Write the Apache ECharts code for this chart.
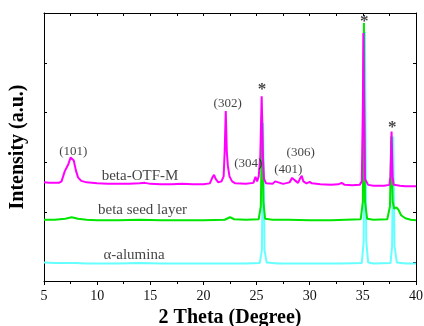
<!DOCTYPE html>
<html><head><meta charset="utf-8">
<script src="https://cdn.jsdelivr.net/npm/echarts@6/dist/echarts.min.js"></script>
<style>html,body{margin:0;padding:0;background:#fff}#c{width:424px;height:326px}</style>
</head><body><div id="c"></div>
<script>
// X ticks (degrees)
var xTicks = [5, 10, 15, 20, 25, 30, 35, 40];
// Series: [2θ, intensity (offset units)]
var alumina = [[5,0.37],[6,0.36],[7,0.36],[8,0.36],[9,0.35],[10,0.35],[12,0.35],[14,0.36],[16,0.35],[18,0.35],[20,0.35],[22,0.35],[24,0.35],[25.3,0.36],[25.5,0.62],[25.62,3.17],[25.75,0.62],[25.95,0.37],[27,0.35],[29,0.35],[31,0.35],[33,0.35],[34.9,0.36],[35.08,0.8],[35.2,5.0],[35.32,0.8],[35.5,0.37],[36,0.35],[37.6,0.36],[37.75,0.7],[37.86,2.9],[37.98,0.7],[38.2,0.37],[39,0.35],[40,0.35]];
var seedLayer = [[5,1.23],[6,1.23],[7,1.25],[7.6,1.28],[8.2,1.25],[9,1.23],[10,1.22],[12,1.22],[14,1.23],[16,1.22],[18,1.22],[20,1.22],[22,1.23],[22.5,1.28],[22.9,1.24],[24,1.23],[25.2,1.24],[25.4,1.5],[25.52,3.33],[25.64,1.6],[25.8,1.25],[26.5,1.23],[28,1.23],[30,1.22],[32,1.22],[34.8,1.24],[35.0,1.6],[35.1,5.18],[35.2,1.6],[35.4,1.25],[36,1.23],[37.3,1.24],[37.55,1.5],[37.67,2.9],[37.8,1.6],[37.95,1.45],[38.15,1.48],[38.35,1.43],[38.6,1.32],[39,1.26],[39.5,1.23],[40,1.22]];
var otfM = [[5.0,1.98],[5.5,1.97],[6.0,1.97],[6.4,1.97],[6.65,2.0],[6.8,2.1],[6.95,2.2],[7.1,2.22],[7.3,2.35],[7.5,2.48],[7.65,2.5],[7.8,2.42],[8.0,2.22],[8.2,2.08],[8.5,2.01],[9.0,1.98],[10,1.96],[11,1.95],[12,1.95],[13,1.95],[14,1.96],[14.5,1.97],[15,1.95],[16,1.94],[17,1.94],[18,1.95],[19,1.94],[20,1.94],[20.6,1.96],[20.85,2.08],[21.0,2.13],[21.15,2.05],[21.4,1.98],[21.7,2.0],[21.9,2.1],[22.0,2.6],[22.1,3.41],[22.2,2.6],[22.3,2.31],[22.45,2.1],[22.7,2.0],[23,1.96],[24,1.95],[24.7,1.97],[24.9,2.09],[25.05,2.0],[25.2,2.1],[25.35,2.5],[25.48,3.71],[25.6,2.5],[25.7,2.05],[25.9,1.96],[26.5,1.95],[26.75,2.0],[26.9,1.96],[27.5,1.95],[28.1,1.98],[28.35,2.07],[28.55,2.03],[28.9,1.97],[29.1,2.06],[29.25,2.11],[29.4,2.0],[29.7,1.96],[30.0,1.99],[30.2,1.96],[31,1.94],[32,1.93],[32.7,1.94],[33.0,1.97],[33.3,1.93],[34,1.92],[34.7,1.93],[34.9,2.0],[35.0,3.5],[35.05,4.98],[35.12,3.5],[35.2,2.05],[35.5,1.93],[36,1.91],[37,1.91],[37.5,1.93],[37.6,2.1],[37.7,3.0],[37.8,2.1],[37.9,1.93],[38.5,1.91],[39,1.90],[40,1.90]];
// Annotations: [x, y, text]
var hklLabels = [[7.75,2.6,'(101)'],[22.28,3.57,'(302)'],[24.22,2.36,'(304)'],[27.98,2.24,'(401)'],[29.15,2.58,'(306)']];
var stars = [[25.5,3.84,'*'],[35.13,5.2,'*'],[37.77,3.07,'*']];
var curveLabels = [[14.03,2.11,'beta-OTF-M'],[14.27,1.42,'beta seed layer'],[13.47,0.52,'α-alumina']];

var serif = 'Liberation Serif';
var chart = echarts.init(document.getElementById('c'), null, {renderer:'canvas'});
function lineS(name, data, color){
  return {type:'line', name:name, data:data, xAxisIndex:0, yAxisIndex:0, showSymbol:false, symbol:'none',
    lineStyle:{color:color, width:2}, animation:false, z:2};
}
function textS(data, size, weight){
  return {type:'scatter', data:data, symbolSize:0, xAxisIndex:0, yAxisIndex:0, silent:true, animation:false, z:5,
    label:{show:true, position:'inside', formatter:function(p){return p.data[2];}, color:'#111',
      fontFamily:serif, fontSize:size, fontWeight:weight}};
}
var ax = {color:'#000', width:1};
chart.setOption({
  backgroundColor:'#fff',
  animation:false,
  grid:{left:44, right:8, top:13, bottom:45, containLabel:false, outerBoundsMode:'none'},
  xAxis:[
    {type:'value', min:5, max:40, interval:5, position:'bottom',
     name:'2 Theta (Degree)', nameLocation:'middle', nameGap:24,
     nameTextStyle:{fontFamily:serif, fontSize:20, fontWeight:'bold', color:'#000'},
     axisLine:{show:true, lineStyle:ax}, splitLine:{show:false},
     axisTick:{show:true, inside:false, length:4, lineStyle:ax},
     minorTick:{show:true, splitNumber:2, length:3, lineStyle:ax},
     axisLabel:{fontFamily:serif, fontSize:14, color:'#111', margin:8}},
    {type:'value', min:5, max:40, interval:2.5, position:'top',
     axisLine:{show:true, lineStyle:ax}, splitLine:{show:false},
     axisTick:{show:true, inside:true, length:3, lineStyle:ax}, axisLabel:{show:false}}
  ],
  yAxis:[
    {type:'value', min:0, max:5.38, position:'left',
     name:'Intensity (a.u.)', nameLocation:'middle', nameGap:16, nameRotate:90,
     nameTextStyle:{fontFamily:serif, fontSize:20, fontWeight:'bold', color:'#000'},
     axisLine:{show:true, lineStyle:ax}, axisTick:{show:false}, axisLabel:{show:false}, splitLine:{show:false}},
    {type:'value', inverse:true, min:0, max:5.38, interval:1, position:'left',
     axisLine:{show:false}, axisTick:{show:true, inside:true, length:3, lineStyle:ax}, axisLabel:{show:false}, splitLine:{show:false}},
    {type:'value', inverse:true, min:0, max:5.38, interval:1, position:'right',
     axisLine:{show:true, lineStyle:ax}, axisTick:{show:true, inside:true, length:3, lineStyle:ax}, axisLabel:{show:false}, splitLine:{show:false}}
  ],
  series:[
    lineS('α-alumina', alumina, '#66ffff'),
    lineS('beta seed layer', seedLayer, '#00e600'),
    lineS('beta-OTF-M', otfM, '#ff00ff'),
    textS(hklLabels, 13, 'normal'),
    textS(stars, 17, 'bold'),
    textS(curveLabels, 15, 'normal')
  ]
});
</script></body></html>
